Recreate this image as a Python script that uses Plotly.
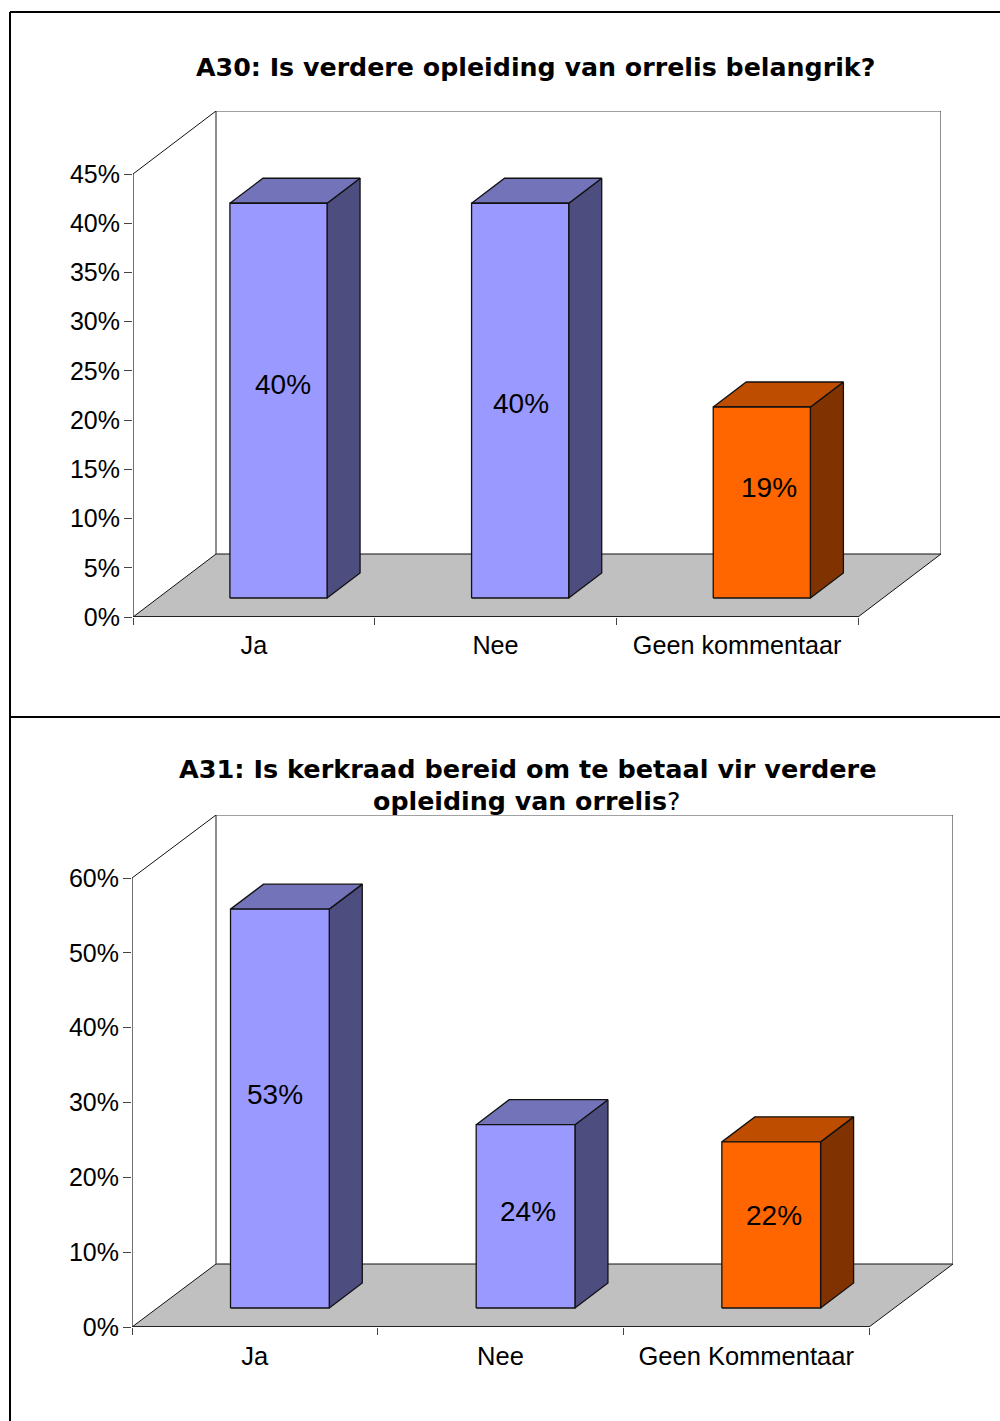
import plotly.graph_objects as go

W, H = 1000, 1421

# ---- data ----
categories_a30 = ["Ja", "Nee", "Geen kommentaar"]
values_a30 = [40.1, 40.1, 19.4]
labels_a30 = ["40%", "40%", "19%"]
ticks_a30 = [0, 5, 10, 15, 20, 25, 30, 35, 40, 45]

categories_a31 = ["Ja", "Nee", "Geen Kommentaar"]
values_a31 = [53.3, 24.5, 22.2]
labels_a31 = ["53%", "24%", "22%"]
ticks_a31 = [0, 10, 20, 30, 40, 50, 60]

# ---- styles ----
FRONT = ["#9999FF", "#9999FF", "#FF6600"]
TOP = ["#7373BA", "#7373BA", "#BF4D00"]
SIDE = ["#4D4D80", "#4D4D80", "#803300"]
FLOOR = "#C0C0C0"
EDGE = "#111111"
WALL = "#444444"
SANS = "Liberation Sans"
TITLE_FONT = "DejaVu Sans"

fig = go.Figure()
annotations = []


def add_chart(n, cats, vals, labels, ticks, px_left, px_right, px_floor, px_top,
              depth_x, depth_y, bar_gap_y, shifts, cat_size):
    xname = "x" if n == 1 else f"x{n}"
    yname = "y" if n == 1 else f"y{n}"
    ymax = ticks[-1]
    ncat = len(cats)
    ux = (px_right - px_left) / ncat      # pixels per category
    uy = (px_floor - px_top) / ymax       # pixels per percent
    dx = depth_x / ux
    dy = depth_y / uy
    bar_dx = 33 / ux
    bar_dy = 25 / uy
    base = bar_gap_y / uy
    bar_left = 0.401
    bar_w = 0.402

    def line(xs, ys, color=EDGE, width=1, fill=None):
        fig.add_trace(go.Scatter(
            x=xs, y=ys, xaxis=xname, yaxis=yname, mode="lines", cliponaxis=False,
            line=dict(color=color, width=width), hoverinfo="skip", showlegend=False,
            fill="toself" if fill else None, fillcolor=fill))

    # floor, walls, axis lines
    line([0, ncat, ncat + dx, dx, 0], [0, 0, dy, dy, 0], EDGE, 1, FLOOR)
    line([dx, dx, ncat + dx, ncat + dx], [dy, ymax + dy, ymax + dy, dy], WALL, 1.2)
    line([0, dx], [ymax, ymax + dy], EDGE, 1)
    line([0, 0], [0, ymax], WALL, 1.5)
    line([0, ncat], [0, 0], "#222222", 2)

    # bars
    for i, v in enumerate(vals):
        x0 = i + bar_left
        x1 = x0 + bar_w
        y0 = base
        y1 = base + v
        line([x1, x1 + bar_dx, x1 + bar_dx, x1, x1],
             [y0, y0 + bar_dy, y1 + bar_dy, y1, y0], EDGE, 1.3, SIDE[i])
        line([x0, x1, x1 + bar_dx, x0 + bar_dx, x0],
             [y1, y1, y1 + bar_dy, y1 + bar_dy, y1], EDGE, 1.3, TOP[i])
        line([x0, x1, x1, x0, x0], [y0, y0, y1, y1, y0], EDGE, 1.3, FRONT[i])
        annotations.append(dict(
            x=(x0 + x1) / 2, y=(y0 + y1) / 2, xref=xname, yref=yname,
            text=labels[i], showarrow=False, xshift=shifts[i][0], yshift=shifts[i][1],
            font=dict(family=SANS, size=28, color="#000000")))

    xrange_max = ncat + dx
    yrange_max = ymax + dy
    fig.update_layout({
        ("xaxis" if n == 1 else f"xaxis{n}"): dict(
            domain=[px_left / W, (px_left + xrange_max * ux) / W], automargin=False,
            range=[0, xrange_max], anchor=yname, showgrid=False, zeroline=False,
            showline=False, tickmode="array",
            tickvals=[i + 0.5 for i in range(ncat)], ticktext=cats, ticks="",
            ticklabelstandoff=11,
            tickfont=dict(family=SANS, size=cat_size, color="#000000"),
            minor=dict(tickmode="array", tickvals=list(range(ncat + 1)), ticks="outside",
                       ticklen=7, tickwidth=1, tickcolor=WALL, showgrid=False)),
        ("yaxis" if n == 1 else f"yaxis{n}"): dict(
            domain=[1 - px_floor / H, 1 - (px_floor - yrange_max * uy) / H], automargin=False,
            range=[0, yrange_max], anchor=xname, showgrid=False, zeroline=False,
            showline=False, tickmode="array", tickvals=ticks,
            ticktext=[f"{t}%" for t in ticks], ticks="outside", ticklen=8, tickwidth=1,
            tickcolor=WALL, ticklabelstandoff=-1,
            tickfont=dict(family=SANS, size=25, color="#000000")),
    })


add_chart(1, categories_a30, values_a30, labels_a30, ticks_a30,
          133, 858, 617, 174, 83, 63, 19,
          [(4.5, 16), (0.5, -3), (7.5, 15)], 25.2)
add_chart(2, categories_a31, values_a31, labels_a31, ticks_a31,
          132, 869, 1327, 878, 84, 63, 19,
          [(-5, 14.5), (2.5, 5), (2.5, 9)], 25.5)


def title(text, cx, cy, size=25.3):
    annotations.append(dict(
        x=cx / W, y=1 - cy / H, xref="paper", yref="paper", text=text, showarrow=False,
        xanchor="center", yanchor="middle",
        font=dict(family=TITLE_FONT, size=size, color="#000000")))


title("<b>A30: Is verdere opleiding van orrelis belangrik?</b>", 535, 67)
title("<b>A31: Is kerkraad bereid om te betaal vir verdere</b>", 527, 769, 25.55)
title("<b>opleiding van orrelis</b>?", 526, 801)


def rule(x0, y0, x1, y1):
    return dict(type="line", xref="paper", yref="paper", x0=x0 / W, x1=x1 / W,
                y0=1 - y0 / H, y1=1 - y1 / H, line=dict(color="#000000", width=2))


fig.update_layout(
    width=W, height=H, margin=dict(l=0, r=0, t=0, b=0, pad=0), autosize=False,
    paper_bgcolor="#FFFFFF", plot_bgcolor="#FFFFFF", showlegend=False,
    hovermode=False, annotations=annotations,
    shapes=[rule(10, 12, 1000, 12), rule(10, 12, 10, 1421), rule(10, 717, 1000, 717)],
)

fig.write_html(
    "out.html",
    config={"displayModeBar": False, "responsive": False},
    default_width=W, default_height=H,
    post_script="document.documentElement.style.margin='0';document.body.style.margin='0';",
)
